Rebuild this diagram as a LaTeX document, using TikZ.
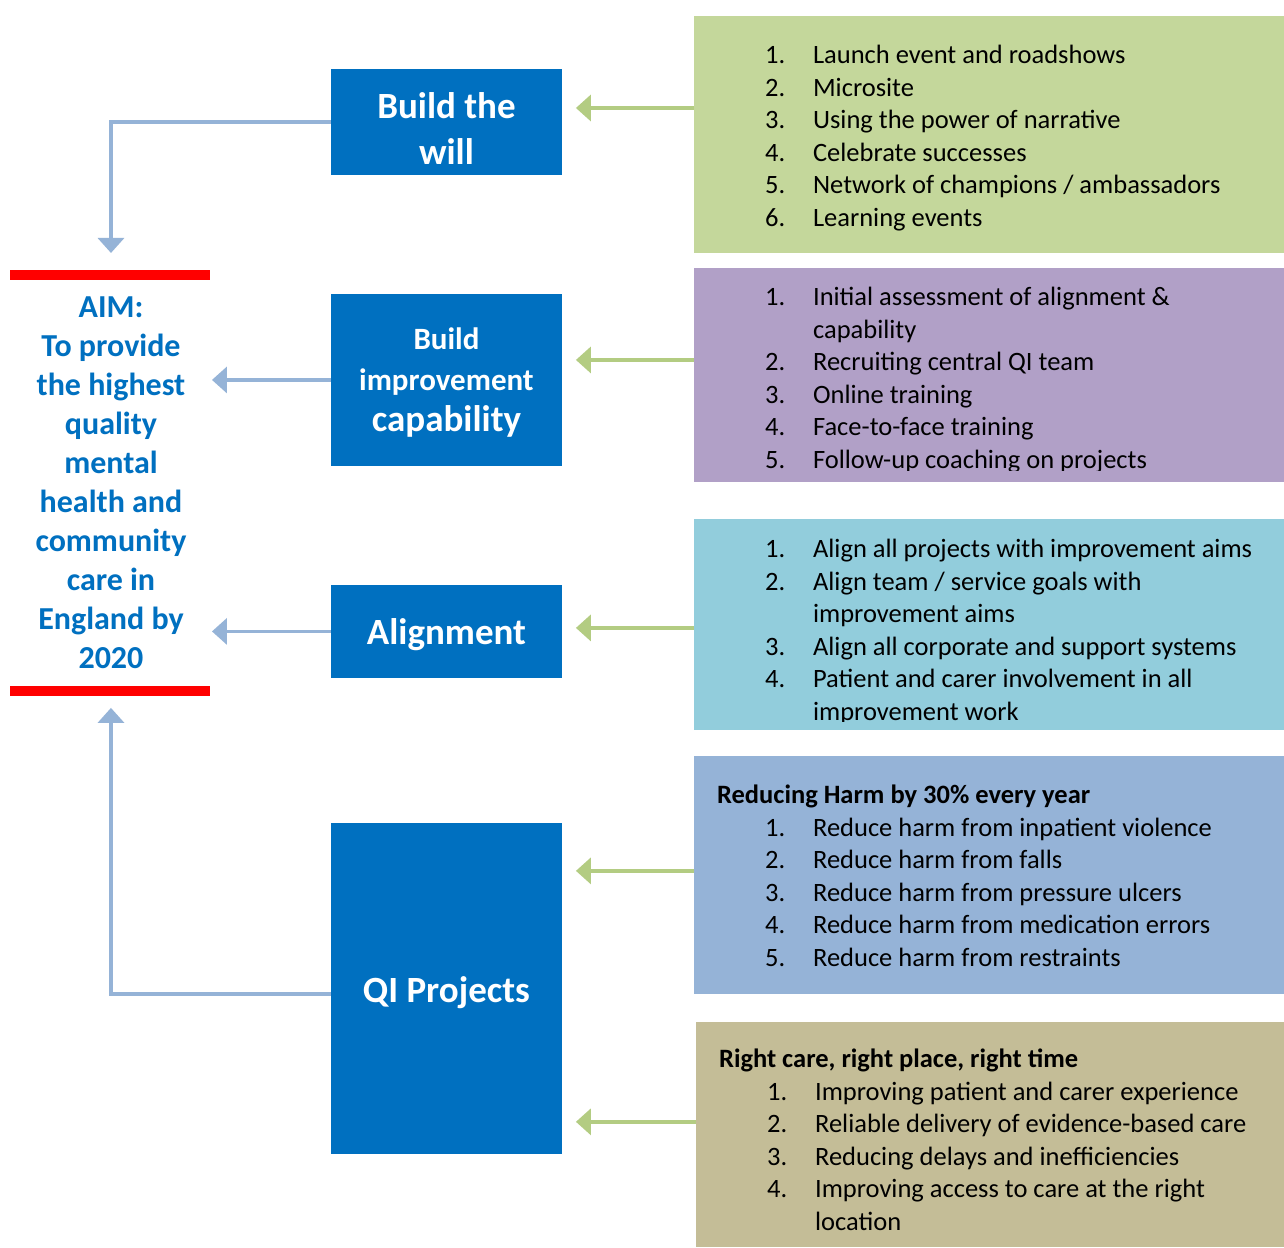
\documentclass[tikz,border=0pt]{standalone}
\usepackage{fontspec}
\setmainfont{Carlito}
\usetikzlibrary{arrows.meta,positioning}
\definecolor{qiblue}{HTML}{0070C0}
\definecolor{willgreen}{HTML}{C4D79B}
\definecolor{capviolet}{HTML}{B1A0C7}
\definecolor{aligncyan}{HTML}{92CDDC}
\definecolor{harmblue}{HTML}{95B3D7}
\definecolor{caretan}{HTML}{C4BD97}
\definecolor{linkblue}{HTML}{95B3D7}
\definecolor{feedgreen}{HTML}{B3CC82}
\definecolor{aimred}{HTML}{FF0000}
\tikzset{>=latex}
\tikzset{
  driver/.style={fill=qiblue, minimum width=231pt, inner sep=0pt},
  drivertext/.style={anchor=base, inner sep=0pt, text=white, font=\bfseries\fontsize{37}{46}\selectfont},
  ideas/.style={anchor=north west, minimum width=590pt, inner sep=0pt},
  ideatext/.style={anchor=base west, inner sep=0pt, font=\fontsize{26.5}{32.5}\selectfont},
  tolink/.style={draw=linkblue, line width=3.5pt, -{Triangle[length=15pt,width=26pt]}},
  tofeed/.style={draw=feedgreen, line width=3.5pt, -{Triangle[length=15pt,width=26pt]}},
}

\begin{document}
\begin{tikzpicture}[x=1pt,y=-1pt]
    \fill[white] (0,0) rectangle (1284,1247);

    \fill[aimred] (10,270) rectangle (210,280);
    \fill[aimred] (10,686) rectangle (210,696);
    \node[anchor=base, inner sep=0pt, text=qiblue, font=\bfseries\fontsize{32}{39}\selectfont] (aim) at (111,318)
    {\begin{tabular}[t]{@{}c@{}}AIM:\\ To provide\\ the highest\\ quality\\ mental\\ health and\\ community\\ care in\\ England by\\ 2020\end{tabular}};

    \node[driver, minimum height=106pt] (will) at (446.5,122) {};
    \node[drivertext] (willtext) at (446.5,119) {\begin{tabular}[t]{@{}c@{}}Build the\\ will\end{tabular}};
    \node[driver, minimum height=172pt] (capab) at (446.5,380) {};
    \node[drivertext, font=\bfseries\fontsize{31}{41}\selectfont] (capabtext) at (446.5,349.5)
    {\begin{tabular}[t]{@{}c@{}}Build\\ improvement\\ {\fontsize{37}{41}\selectfont capability}\end{tabular}};
    \node[driver, minimum height=93pt] (align) at (446.5,631.5) {};
    \node[drivertext] (aligntext) at (446.5,645) {Alignment};
    \node[driver, minimum height=331pt] (qi) at (446.5,988.5) {};
    \node[drivertext] (qitext) at (446.5,1003) {QI Projects};

    \node[ideas, fill=willgreen, minimum height=237pt] (willbox) at (694,16) {};
    \node[ideatext] (willitems) at (765,64) {\begin{tabular}[t]{@{}p{48pt}@{}l@{}}
      1. & Launch event and roadshows\\
      2. & Microsite\\
      3. & Using the power of narrative\\
      4. & Celebrate successes\\
      5. & Network of champions / ambassadors\\
      6. & Learning events
    \end{tabular}};

    \node[ideas, fill=capviolet, minimum height=214pt] (capbox) at (694,268) {};
    \begin{scope}
      \clip (694,268) rectangle (1284,471);
      \node[ideatext] (capitems) at (765,306) {\begin{tabular}[t]{@{}p{48pt}@{}l@{}}
        1. & Initial assessment of alignment \&\\
           & capability\\
        2. & Recruiting central QI team\\
        3. & Online training\\
        4. & Face-to-face training\\
        5. & Follow-up coaching on projects
      \end{tabular}};
    \end{scope}

    \node[ideas, fill=aligncyan, minimum height=211pt] (alignbox) at (694,519) {};
    \begin{scope}
      \clip (694,519) rectangle (1284,722);
      \node[ideatext] (alignitems) at (765,558) {\begin{tabular}[t]{@{}p{48pt}@{}l@{}}
        1. & Align all projects with improvement aims\\
        2. & Align team / service goals with\\
           & improvement aims\\
        3. & Align all corporate and support systems\\
        4. & Patient and carer involvement in all\\
           & improvement work
      \end{tabular}};
    \end{scope}

    \node[ideas, fill=harmblue, minimum height=238pt] (harmbox) at (694,756) {};
    \node[ideatext] (harmitems) at (717,804) {\begin{tabular}[t]{@{}p{48pt}@{}p{48pt}@{}l@{}}
      \multicolumn{3}{@{}l@{}}{\bfseries Reducing Harm by 30\% every year}\\
      & 1. & Reduce harm from inpatient violence\\
      & 2. & Reduce harm from falls\\
      & 3. & Reduce harm from pressure ulcers\\
      & 4. & Reduce harm from medication errors\\
      & 5. & Reduce harm from restraints
    \end{tabular}};

    \node[ideas, fill=caretan, minimum width=588pt, minimum height=225pt] (carebox) at (696,1022) {};
    \node[ideatext] (careitems) at (719,1068) {\begin{tabular}[t]{@{}p{48pt}@{}p{48pt}@{}l@{}}
      \multicolumn{3}{@{}l@{}}{\bfseries Right care, right place, right time}\\
      & 1. & Improving patient and carer experience\\
      & 2. & Reliable delivery of evidence-based care\\
      & 3. & Reducing delays and inefficiencies\\
      & 4. & Improving access to care at the right\\
      &    & location
    \end{tabular}};

    \coordinate (willin) at (576,108);
    \coordinate (capin) at (576,360);
    \coordinate (alignin) at (576,628);
    \coordinate (harmin) at (576,871);
    \coordinate (carein) at (576,1122);
    \draw[tofeed] (willbox.west |- willin) -- (willin);
    \draw[tofeed] (capbox.west |- capin) -- (capin);
    \draw[tofeed] (alignbox.west |- alignin) -- (alignin);
    \draw[tofeed] (harmbox.west |- harmin) -- (harmin);
    \draw[tofeed] (carebox.west |- carein) -- (carein);

    \coordinate (aimtop) at (111,253);
    \coordinate (aimcap) at (212,380);
    \coordinate (aimalign) at (212,631.5);
    \coordinate (aimbottom) at (111,708);
    \coordinate (qiout) at (0,994);
    \draw[tolink] (will.west) -| (aimtop);
    \draw[tolink] (capab.west) -- (aimcap);
    \draw[tolink] (align.west) -- (aimalign);
    \draw[tolink] (qi.west |- qiout) -| (aimbottom);
\end{tikzpicture}
\end{document}
